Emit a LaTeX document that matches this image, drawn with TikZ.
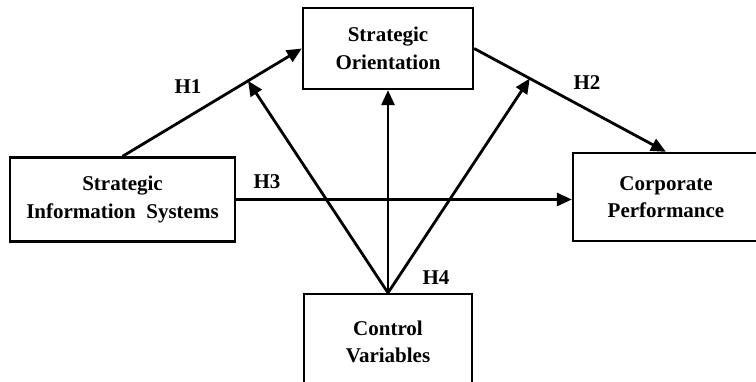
\documentclass[tikz,border=0pt]{standalone}
\usepackage{fontspec}
\setmainfont{Liberation Serif}
\usetikzlibrary{arrows.meta,calc}
\begin{document}
\begin{tikzpicture}[x=1pt,y=-1pt,
  box/.style={draw=black,line width=2.3pt,fill=white,align=center,inner sep=0pt,
    font=\fontsize{21}{27.5}\selectfont\bfseries},
  conn/.style={line width=2.8pt,-{Triangle[length=15pt,width=13pt]}},
  hlab/.style={font=\fontsize{21}{24}\selectfont\bfseries,inner sep=0pt}]
\useasboundingbox (0,0) rectangle (756,382);
\clip (0,0) rectangle (756,382);
\node[box,minimum width=170pt,minimum height=81pt] (so) at (388,48.5) {Strategic\\Orientation};
\node[box,minimum width=225pt,minimum height=84pt] (sis) at (122.5,199.5) {Strategic\\Information\ \ Systems};
\node[box,minimum width=186pt,minimum height=88pt] (cp) at (666,197) {Corporate\\Performance};
\node[box,minimum width=168pt,minimum height=96pt] (cv) at (388,342) {Control\\Variables};
\draw[conn] (sis.north) -- (so.west);
\draw[conn] (so.east) -- (cp.north);
\draw[conn] (sis.east) -- (sis.east -| cp.west);
\coordinate (p1) at ($(sis.north)!0.70!(so.west)$);
\coordinate (p2) at ($(so.east)!0.29!(cp.north)$);
\draw[conn] (cv.north) -- (p1);
\draw[conn] (cv.north) -- (so.south);
\draw[conn] (cv.north) -- (p2);
\node[hlab] (h1) at (188,87) {H1};
\node[hlab] (h2) at (587,83) {H2};
\node[hlab] (h3) at (267,182) {H3};
\node[hlab] (h4) at (436,278) {H4};
\end{tikzpicture}
\end{document}
